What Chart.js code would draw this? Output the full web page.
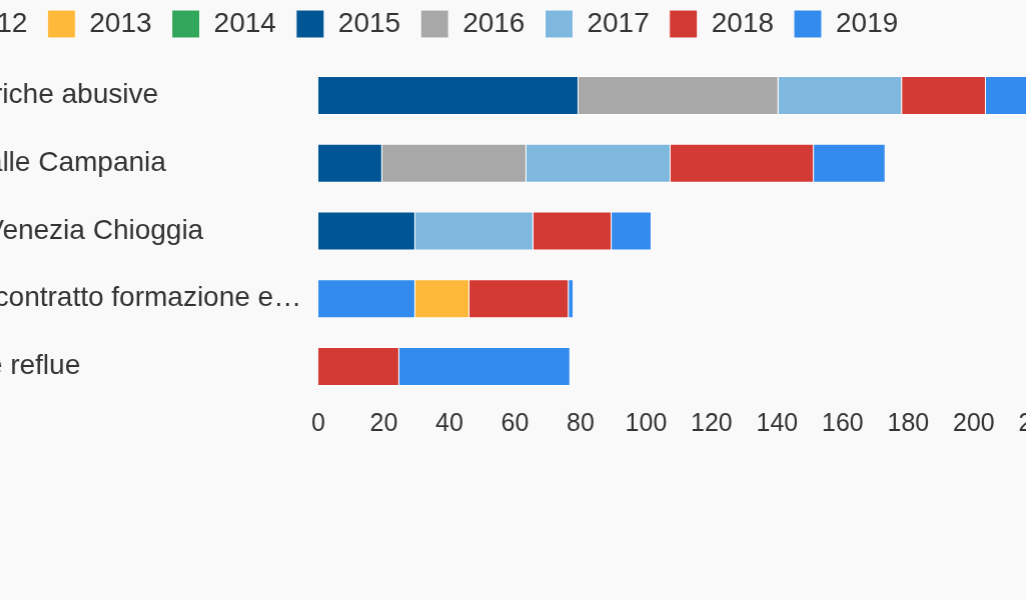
<!DOCTYPE html>
<html>
<head>
<meta charset="utf-8">
<script src="https://cdn.jsdelivr.net/npm/chart.js@4"></script>
<style>
  html, body { margin: 0; padding: 0; background: #f9f9f9; overflow: hidden; }
  #wrap { position: absolute; left: -77px; top: -10px; width: 1210.7px; height: 458.4px; }
</style>
</head>
<body>
<div id="wrap"><canvas id="chart"></canvas></div>
<script>
const categories = ['Discariche abusive', 'Ecoballe Campania', 'Aiuti Venezia Chioggia', 'Aiuto contratto formazione e lavoro', 'Acque reflue'];
const years = ['2012', '2013', '2014', '2015', '2016', '2017', '2018', '2019'];

const y2012 = [null, null, null, 29.6, null];
const y2013 = [null, null, null, 16.5, null];
const y2014 = [null, null, null, null, null];
const y2015 = [79.4, 19.5, 29.6, null, null];
const y2016 = [61, 44, null, null, null];
const y2017 = [37.7, 44, 36, null, null];
const y2018 = [25.6, 43.7, 23.9, 30.3, 24.7];
const y2019 = [16, 21.9, 12.2, 1.5, 52.2];

const colors = ['#338bed', '#ffb93a', '#32a65a', '#005694', '#a8a8a8', '#7fb8de', '#d43a34', '#338bed'];
const series = [y2012, y2013, y2014, y2015, y2016, y2017, y2018, y2019];

const LEGEND_DX = -20;
const LEGEND_DY = -13.6;

// move the legend a bit, the original is cropped on both sides
const legendOffset = {
    id: 'legendOffset',
    afterLayout(chart) {
        const lg = chart.legend;
        lg.left += LEGEND_DX; lg.right += LEGEND_DX;
        lg.top += LEGEND_DY; lg.bottom += LEGEND_DY;
    }
};

const txt = '#333333';
const ctx = document.getElementById('chart').getContext('2d');
const chart = new Chart(ctx, {
    type: 'bar',
    data: {
        labels: categories,
        datasets: years.map((y, i) => ({
            label: y,
            data: series[i],
            backgroundColor: colors[i],
            borderColor: '#ffffff',
            borderWidth: 1,
            barPercentage: 0.8,
            categoryPercentage: 0.72
        }))
    },
    options: {
        indexAxis: 'y',
        responsive: true,
        maintainAspectRatio: false,
        animation: false,
        layout: { padding: { top: 13.6 } },
        scales: {
            x: {
                stacked: true,
                min: 0,
                max: 240,
                grid: { display: false, drawTicks: false },
                border: { display: false },
                ticks: { stepSize: 20, padding: 9, color: txt, font: { family: 'Liberation Sans', size: 25 } }
            },
            y: {
                stacked: true,
                grid: { display: false, drawTicks: false },
                border: { display: false },
                afterFit: function (scale) { scale.width = 395; },
                ticks: {
                    crossAlign: 'far',
                    color: txt,
                    font: { family: 'Liberation Sans', size: 28 },
                    callback: function (v) {
                        const l = this.getLabelForValue(v);
                        return l.length > 28 ? l.slice(0, 28) + '…' : l;
                    }
                }
            }
        },
        plugins: {
            legend: {
                align: 'start',
                labels: { boxWidth: 28, boxHeight: 28, padding: 20, color: txt, font: { family: 'Liberation Sans', size: 28 } }
            },
            tooltip: { enabled: false }
        }
    },
    plugins: [legendOffset]
});
</script>
</body>
</html>
